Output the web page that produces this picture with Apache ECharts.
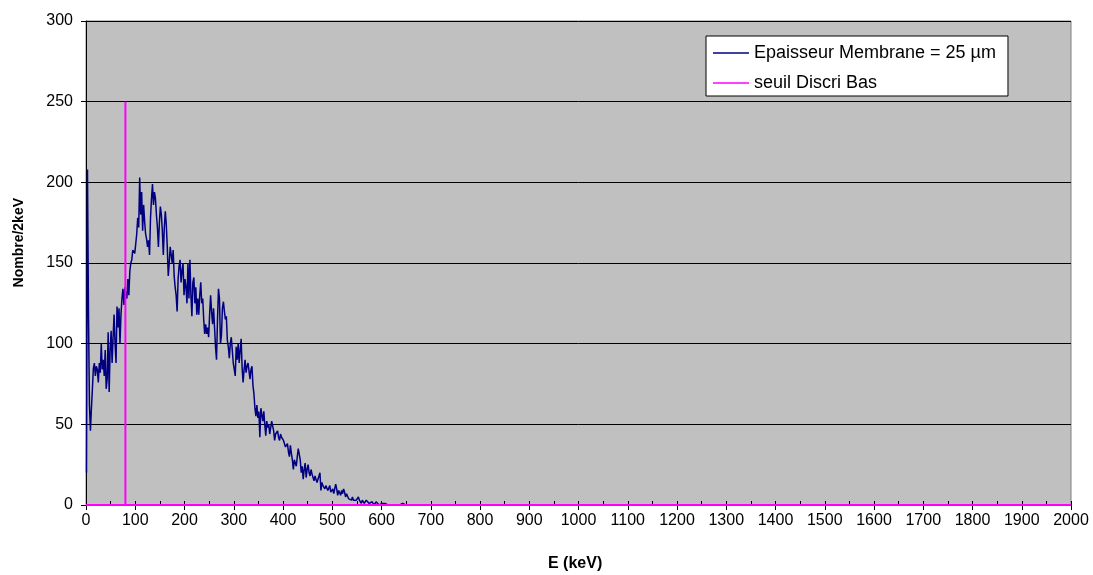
<!DOCTYPE html>
<html>
<head>
<meta charset="utf-8">
<script src="https://cdn.jsdelivr.net/npm/echarts@6/dist/echarts.min.js"></script>
<style>
  html, body { margin: 0; padding: 0; background: #fff; }
  #main { width: 1093px; height: 575px; }
</style>
</head>
<body>
<div id="main"></div>
<script>
// counts per 2 keV bin, first bin centred at 1 keV
var binWidth = 2;
var counts = [
    20, 208, 120, 62, 46, 60, 72, 85, 88, 80,
    86, 84, 76, 88, 82, 100, 84, 90, 80, 96,
    72, 78, 107, 70, 96, 108, 88, 104, 118, 100,
    88, 123, 110, 122, 100, 118, 128, 134, 124, 135,
    130, 128, 140, 130, 145, 150, 152, 158, 159, 156,
    162, 168, 178, 172, 203, 180, 194, 170, 186, 176,
    168, 165, 160, 164, 155, 178, 190, 199, 186, 194,
    190, 180, 172, 160, 175, 185, 180, 170, 155, 172,
    182, 174, 160, 142, 150, 160, 155, 150, 158, 142,
    135, 130, 120, 140, 148, 152, 138, 145, 150, 130,
    140, 135, 125, 150, 128, 152, 130, 117, 138, 141,
    125, 135, 118, 128, 118, 130, 138, 125, 128, 115,
    106, 112, 106, 110, 104, 118, 130, 120, 112, 122,
    110, 98, 90, 115, 134, 128, 100, 105, 122, 126,
    120, 115, 117, 102, 98, 91, 100, 104, 96, 88,
    84, 80, 98, 90, 100, 88, 96, 103, 85, 76,
    84, 90, 82, 86, 88, 87, 78, 84, 86, 74,
    69, 60, 55, 62, 54, 58, 42, 60, 56, 52,
    58, 50, 43, 52, 48, 50, 44, 48, 52, 53,
    46, 40, 44, 45, 46, 42, 40, 44, 42, 43,
    40, 38, 36, 36, 38, 33, 30, 37, 32, 28,
    22, 28, 26, 24, 30, 35, 34, 28, 20, 24,
    16, 22, 26, 17, 22, 25, 20, 18, 22, 19,
    17, 15, 18, 16, 14, 16, 18, 20, 9, 14,
    12, 13, 10, 12, 11, 9, 10, 12, 8, 9,
    10, 7, 8, 13, 10, 6, 9, 8, 6, 9,
    7, 10, 8, 5, 7, 6, 4, 5, 3, 3,
    5, 3, 2, 4, 3, 2, 5, 3, 2, 1,
    3, 2, 1, 2, 3, 4, 2, 1, 2, 1,
    2, 1, 0, 1, 2, 1, 2, 0, 1, 0,
    1, 0, 0, 1, 0, 1, 0, 0, 1, 0,
    0, 1, 0, 0, 1, 0, 1, 0, 0, 1,
    0, 1, 0, 1, 0
];
// threshold marker: [E, value] pairs
var seuil = [[0, 0], [80, 0], [80, 250], [80, 0], [2000, 0]];

var spectre = counts.map(function (c, i) {
    return [binWidth / 2 + i * binWidth, c];
});

var dom = document.getElementById('main');
var myChart = echarts.init(dom, null, { renderer: 'canvas' });
var font = 'Liberation Sans, Arial, sans-serif';

var option = {
    backgroundColor: '#fff',
    animation: false,
    textStyle: { fontFamily: font },
    grid: {
        left: 86, right: 22, top: 21, bottom: 70,
        show: true,
        backgroundColor: '#c0c0c0',
        borderColor: '#808080',
        borderWidth: 1
    },
    legend: {
        orient: 'vertical',
        left: 706, top: 36,
        padding: [8, 12, 4, 7],
        icon: 'rect',
        itemWidth: 36, itemHeight: 1.5, itemGap: 12,
        backgroundColor: '#fff',
        borderColor: '#000', borderWidth: 1,
        textStyle: { fontSize: 18, lineHeight: 18, color: '#000', fontFamily: font },
        data: ['Epaisseur Membrane = 25 µm', 'seuil Discri Bas']
    },
    xAxis: [{
        type: 'value', min: 0, max: 2000, interval: 100,
        axisLine: { lineStyle: { color: '#000' } },
        axisTick: { length: 5, lineStyle: { color: '#000' } },
        axisLabel: {
            color: '#000', fontSize: 16, margin: 8,
            formatter: function (v) { return String(v); }
        },
        splitLine: { show: false }
    }, {
        type: 'value', min: 0, max: 2000, interval: 50, position: 'bottom',
        axisLine: { show: false },
        axisTick: { inside: true, length: 4, lineStyle: { color: '#000' } },
        axisLabel: { show: false },
        splitLine: { show: false }
    }],
    yAxis: {
        type: 'value', min: 0, max: 300, interval: 50,
        axisLine: { show: true, lineStyle: { color: '#000' } },
        axisTick: { show: true, length: 5, lineStyle: { color: '#000' } },
        axisLabel: { color: '#000', fontSize: 16, margin: 13 },
        splitLine: { lineStyle: { color: '#000', width: 1 } }
    },
    graphic: [{
        type: 'text', left: 12, top: 198, rotation: Math.PI / 2,
        style: { text: 'Nombre/2keV', font: 'bold 14px ' + font, fill: '#000' }
    }, {
        type: 'text', left: 548, top: 556,
        style: { text: 'E (keV)', font: 'bold 16px ' + font, fill: '#000' }
    }],
    series: [{
        name: 'Epaisseur Membrane = 25 µm',
        type: 'line',
        data: spectre,
        symbol: 'none',
        lineStyle: { color: '#000080', width: 1.5 },
        itemStyle: { color: '#000080' }
    }, {
        name: 'seuil Discri Bas',
        type: 'line',
        data: seuil,
        symbol: 'none',
        lineStyle: { color: '#ff00ff', width: 2 },
        itemStyle: { color: '#ff00ff' },
        z: 3
    }]
};
myChart.setOption(option);
</script>
</body>
</html>
